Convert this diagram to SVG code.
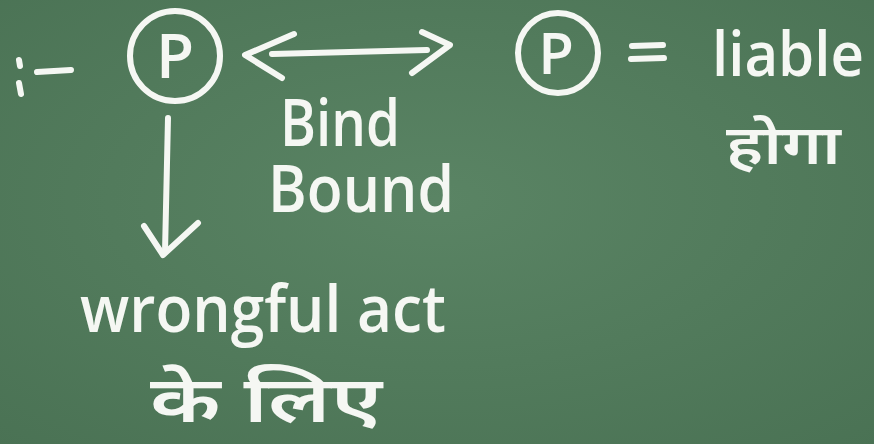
<svg xmlns="http://www.w3.org/2000/svg" width="874" height="444" viewBox="0 0 874 444">
<defs>
<radialGradient id="bg" cx="0.5" cy="0.45" r="0.75">
<stop offset="0" stop-color="#5a8464"/>
<stop offset="1" stop-color="#4a7254"/>
</radialGradient>
<style>
.chalk{fill:none;stroke:#f5f7f3;stroke-width:6;stroke-linecap:round;stroke-linejoin:round}
.t{fill:#f5f7f3;font-family:"Open Sans","Noto Sans","Noto Sans Devanagari","Liberation Sans",sans-serif;font-weight:600}
</style>
</defs>
<rect width="874" height="444" fill="url(#bg)"/>
<g id="lead">
<path class="chalk" d="M19 60 L20 66 M19 83 L21 94 M37 72 L71 70"/>
</g>
<g id="p-left">
<circle class="chalk" cx="175" cy="56" r="45"/>
<text class="t" x="175" y="78" font-size="62" text-anchor="middle">P</text>
</g>
<g id="p-right">
<circle class="chalk" cx="558" cy="53" r="40"/>
<text class="t" x="556" y="74" font-size="58" text-anchor="middle">P</text>
</g>
<g id="liable">
<path class="chalk" d="M632 46 L663 45 M631 59 L664 58"/>
<text class="t" x="712" y="76" font-size="62" textLength="152" lengthAdjust="spacingAndGlyphs">liable</text>
<text class="t" x="726" y="164" font-size="54" textLength="115" lengthAdjust="spacingAndGlyphs">होगा</text>
</g>
<g id="bind-bound">
<text class="t" font-size="66"><tspan x="280" y="146" textLength="120" lengthAdjust="spacingAndGlyphs">Bind</tspan><tspan x="268" y="212" textLength="186" lengthAdjust="spacingAndGlyphs">Bound</tspan></text>
</g>
<g id="wrongful">
<text class="t" x="80" y="332" font-size="66" textLength="366" lengthAdjust="spacingAndGlyphs">wrongful act</text>
<text class="t" x="150" y="422" font-size="64" textLength="232" lengthAdjust="spacingAndGlyphs">के लिए</text>
</g>
<g id="connectors">
<path class="chalk" d="M272 54 L427 50"/>
<path class="chalk" d="M294 34 L245 55 L282 78"/>
<path class="chalk" d="M422 32 L450 45 L412 73"/>
<path class="chalk" d="M168 118 L165 252"/>
<path class="chalk" d="M144 226 L163 255 L198 223"/>
</g>
</svg>
